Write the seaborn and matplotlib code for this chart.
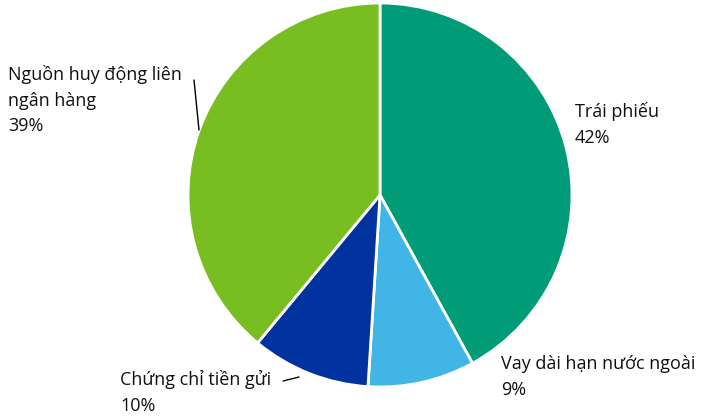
import matplotlib
matplotlib.use("Agg")
import matplotlib.pyplot as plt
import seaborn as sns

sns.set_theme(style="white")
plt.rcParams["font.family"] = ["Open Sans", "DejaVu Sans"]

categories = ["Trái phiếu", "Vay dài hạn nước ngoài", "Chứng chỉ tiền gửi",
              "Nguồn huy động liên\nngân hàng"]
shares = [42, 9, 10, 39]
colors = ["#009B77", "#41B6E6", "#0033A0", "#78BE20"]

W, H = 704, 416
fig = plt.figure(figsize=(W / 100, H / 100), dpi=100)
ax = fig.add_axes([0, 0, 1, 1])

cx, cy, r = 380, H - 195, 192
ax.pie(shares, colors=colors, startangle=90, counterclock=False,
       center=(cx, cy), radius=r, frame=True,
       wedgeprops=dict(edgecolor="white", linewidth=2))
ax.set_xlim(0, W)
ax.set_ylim(0, H)
ax.set_aspect("equal")
ax.axis("off")

fs = 13
label_pos = [(575, H - 102), (501, H - 355), (120, H - 370), (8, H - 65)]
for name, val, (x, y) in zip(categories, shares, label_pos):
    ax.text(x, y, f"{name}\n{val}%", ha="left", va="top", fontsize=fs,
            color="#111111", linespacing=1.55)

# leader lines
ax.plot([194, 199], [H - 80, H - 130], color="black", lw=1)
ax.plot([283, 299], [H - 381, H - 377], color="black", lw=1)

fig.savefig("out.png", dpi=100)
